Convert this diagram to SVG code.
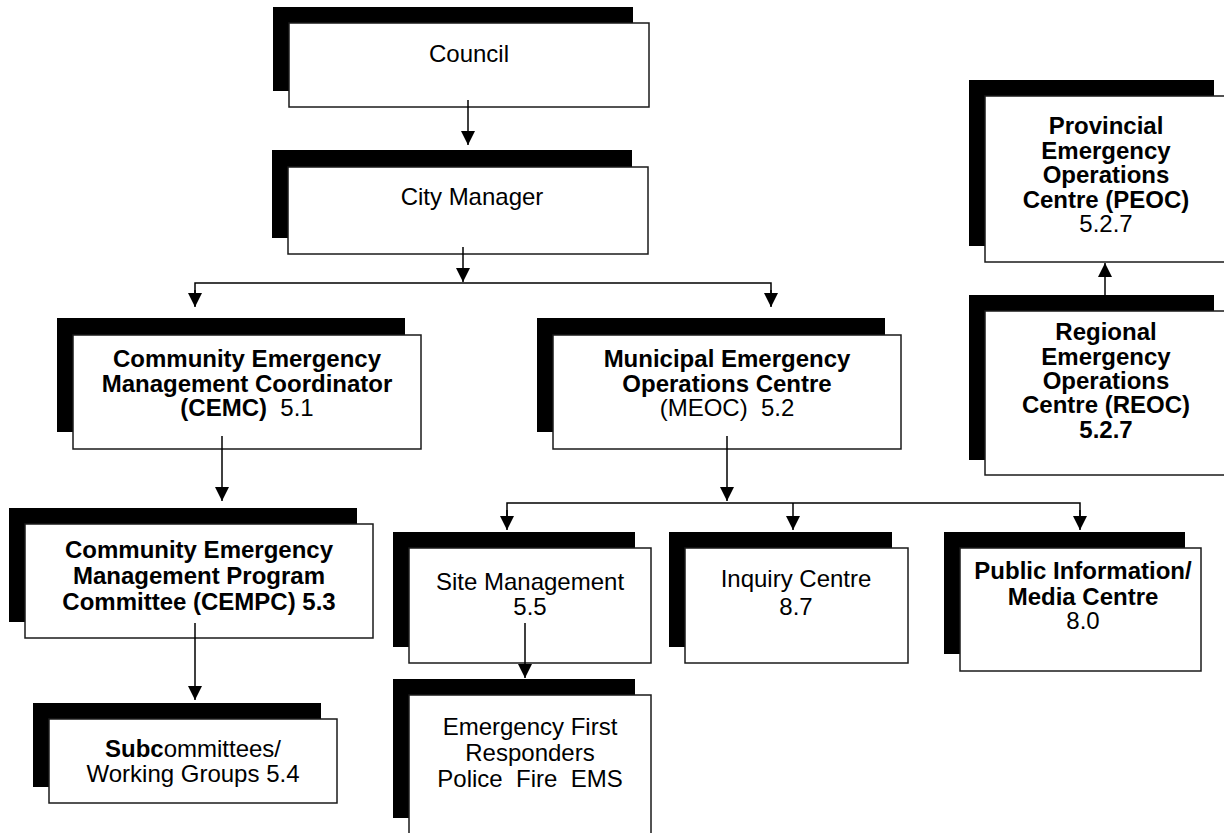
<svg xmlns="http://www.w3.org/2000/svg" width="1224" height="833" viewBox="0 0 1224 833">
  <style>
    .shadow { fill: #000; }
    .box { fill: #fff; stroke: #1a1a1a; stroke-width: 1.5; }
    .lbl { font-family: "Liberation Sans", Arial, sans-serif; font-size: 24px; fill: #000; text-anchor: middle; white-space: pre; }
    .b { font-weight: bold; }
    .n { font-weight: normal; }
    .conn { fill: none; stroke: #000; stroke-width: 1.5; }
  </style>
  <defs>
    <marker id="arrow" markerUnits="userSpaceOnUse" markerWidth="14" markerHeight="14" refX="14" refY="7" orient="auto">
      <path d="M0,0 L14,7 L0,14 z" fill="#000"/>
    </marker>
  </defs>
  <rect width="1224" height="833" fill="#fff"/>

  <!-- organisation boxes: black offset block behind a white framed panel -->
  <g id="council">
    <rect class="shadow" x="273" y="7" width="360" height="84"/>
    <rect class="box" x="289" y="23" width="360" height="84"/>
    <text class="lbl" x="469" y="62">Council</text>
  </g>

  <g id="city-manager">
    <rect class="shadow" x="272" y="150" width="360" height="88"/>
    <rect class="box" x="288" y="167" width="360" height="87"/>
    <text class="lbl" x="472" y="205">City Manager</text>
  </g>

  <g id="cemc">
    <rect class="shadow" x="57" y="318" width="348" height="114"/>
    <rect class="box" x="73" y="335" width="348" height="114"/>
    <text class="lbl b" x="247" y="367">Community Emergency</text>
    <text class="lbl b" x="247" y="392">Management Coordinator</text>
    <text class="lbl" x="247" y="416"><tspan class="b">(CEMC)</tspan>  5.1</text>
  </g>

  <g id="meoc">
    <rect class="shadow" x="537" y="318" width="348" height="114"/>
    <rect class="box" x="553" y="335" width="348" height="114"/>
    <text class="lbl b" x="727" y="367">Municipal Emergency</text>
    <text class="lbl b" x="727" y="392">Operations Centre</text>
    <text class="lbl" x="727" y="416">(MEOC)  5.2</text>
  </g>

  <g id="peoc">
    <rect class="shadow" x="969" y="80" width="245" height="166"/>
    <rect class="box" x="985" y="96" width="245" height="166"/>
    <text class="lbl b" x="1106" y="134">Provincial</text>
    <text class="lbl b" x="1106" y="159">Emergency</text>
    <text class="lbl b" x="1106" y="183">Operations</text>
    <text class="lbl b" x="1106" y="208">Centre (PEOC)</text>
    <text class="lbl" x="1106" y="232">5.2.7</text>
  </g>

  <g id="reoc">
    <rect class="shadow" x="969" y="295" width="245" height="165"/>
    <rect class="box" x="985" y="311" width="245" height="164"/>
    <text class="lbl b" x="1106" y="340">Regional</text>
    <text class="lbl b" x="1106" y="365">Emergency</text>
    <text class="lbl b" x="1106" y="389">Operations</text>
    <text class="lbl b" x="1106" y="413">Centre (REOC)</text>
    <text class="lbl b" x="1106" y="438">5.2.7</text>
  </g>

  <g id="cempc">
    <rect class="shadow" x="9" y="508" width="348" height="114"/>
    <rect class="box" x="25" y="524" width="348" height="114"/>
    <text class="lbl b" x="199" y="558">Community Emergency</text>
    <text class="lbl b" x="199" y="584">Management Program</text>
    <text class="lbl b" x="199" y="610">Committee (CEMPC) 5.3</text>
  </g>

  <g id="subcommittees">
    <rect class="shadow" x="33" y="703" width="288" height="84"/>
    <rect class="box" x="49" y="719" width="288" height="84"/>
    <text class="lbl" x="193" y="757"><tspan class="b">Subc</tspan>ommittees/</text>
    <text class="lbl" x="193" y="782">Working Groups 5.4</text>
  </g>

  <g id="site-management">
    <rect class="shadow" x="393" y="532" width="242" height="115"/>
    <rect class="box" x="409" y="548" width="242" height="115"/>
    <text class="lbl" x="530" y="590">Site Management</text>
    <text class="lbl" x="530" y="615">5.5</text>
  </g>

  <g id="first-responders">
    <rect class="shadow" x="393" y="679" width="242" height="139"/>
    <rect class="box" x="409" y="695" width="242" height="160"/>
    <text class="lbl" x="530" y="735">Emergency First</text>
    <text class="lbl" x="530" y="761">Responders</text>
    <text class="lbl" x="530" y="787">Police  Fire  EMS</text>
  </g>

  <g id="inquiry-centre">
    <rect class="shadow" x="669" y="532" width="223" height="115"/>
    <rect class="box" x="685" y="548" width="223" height="115"/>
    <text class="lbl" x="796" y="587">Inquiry Centre</text>
    <text class="lbl" x="796" y="615">8.7</text>
  </g>

  <g id="public-information">
    <rect class="shadow" x="944" y="532" width="241" height="122"/>
    <rect class="box" x="960" y="548" width="241" height="123"/>
    <text class="lbl b" x="1083" y="579">Public Information/</text>
    <text class="lbl b" x="1083" y="605">Media Centre</text>
    <text class="lbl" x="1083" y="629">8.0</text>
  </g>

  <!-- reporting lines -->
  <g id="connectors">
    <line class="conn" x1="468" y1="100" x2="468" y2="145" marker-end="url(#arrow)"/>
    <line class="conn" x1="463" y1="247" x2="463" y2="282" marker-end="url(#arrow)"/>
    <polyline class="conn" points="195,306 195,283 771,283 771,306"/>
    <line class="conn" x1="195" y1="290" x2="195" y2="307" marker-end="url(#arrow)"/>
    <line class="conn" x1="771" y1="290" x2="771" y2="307" marker-end="url(#arrow)"/>

    <line class="conn" x1="222" y1="436" x2="222" y2="501" marker-end="url(#arrow)"/>
    <line class="conn" x1="195" y1="623" x2="195" y2="700" marker-end="url(#arrow)"/>

    <line class="conn" x1="727" y1="436" x2="727" y2="501" marker-end="url(#arrow)"/>
    <polyline class="conn" points="507,528 507,503 1080,503 1080,528"/>
    <line class="conn" x1="507" y1="510" x2="507" y2="530" marker-end="url(#arrow)"/>
    <line class="conn" x1="793" y1="503" x2="793" y2="530" marker-end="url(#arrow)"/>
    <line class="conn" x1="1080" y1="510" x2="1080" y2="530" marker-end="url(#arrow)"/>

    <line class="conn" x1="525" y1="623" x2="525" y2="678" marker-end="url(#arrow)"/>

    <line class="conn" x1="1105" y1="295" x2="1105" y2="263" marker-end="url(#arrow)"/>
  </g>
</svg>
